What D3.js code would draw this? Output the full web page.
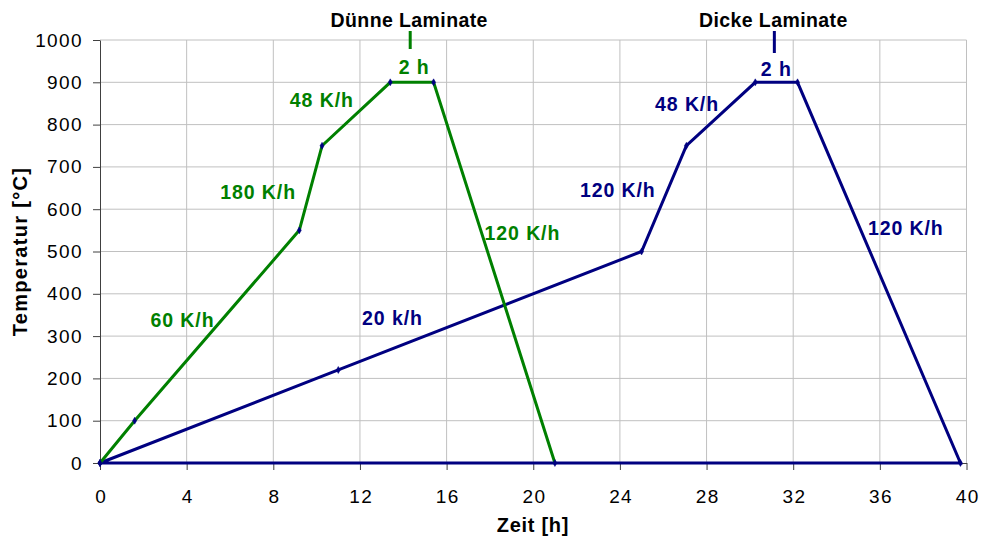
<!DOCTYPE html>
<html><head><meta charset="utf-8">
<script src="https://cdn.jsdelivr.net/npm/d3@7"></script>
<style>body{margin:0;background:#fff}svg{display:block}text{font-family:"Liberation Sans",Arial,sans-serif}</style>
</head><body>
<svg id="c" width="987" height="536"></svg>
<script>
const xTicks = [0,4,8,12,16,20,24,28,32,36,40];
const yTicks = [0,100,200,300,400,500,600,700,800,900,1000];
const thinTime = [0,1.6,9.2,10.25,13.4,15.4,21.0];
const thinTemp = [0,100,550,750,900,900,0];
const thickTime = [0,11.0,25.0,27.07,30.25,32.2,39.72,0];
const thickTemp = [0,220,500,750,900,900,0,0];
const thinLabels = ["60 K/h","180 K/h","48 K/h","2 h","120 K/h"];
const thinLabelX = [3.81,7.3,10.24,14.5,19.5];
const thinLabelY = [339,640,857,936,544];
const thickLabels = ["20 k/h","120 K/h","48 K/h","2 h","120 K/h"];
const thickLabelX = [13.5,23.9,27.1,31.22,37.2];
const thickLabelY = [343,645,849,931,556];
const titles = ["Dünne Laminate","Dicke Laminate"];
const titleX = [14.32,31.13];

const svg = d3.select("#c");
const m = {l:100,r:20.5,t:40,b:73};
const W = 987, H = 536;
const x = d3.scaleLinear().domain([0,40]).range([m.l, W-m.r]);
const y = d3.scaleLinear().domain([0,1000]).range([H-m.b, m.t]);
const green = "#008000", navy = "#000080";

// grid
svg.append("g").selectAll("line").data(xTicks.slice(1)).join("line")
  .attr("x1",d=>x(d)).attr("x2",d=>x(d)).attr("y1",y(0)).attr("y2",y(1000))
  .attr("stroke","#c0c0c0").attr("stroke-width",1);
svg.append("g").selectAll("line").data(yTicks.slice(1)).join("line")
  .attr("x1",x(0)).attr("x2",x(40)).attr("y1",d=>y(d)).attr("y2",d=>y(d))
  .attr("stroke","#c0c0c0").attr("stroke-width",1);

// axes
const fmt = d3.format("d");
const xa = svg.append("g").attr("transform",`translate(0,${y(0)})`)
  .call(d3.axisBottom(x).tickValues(xTicks).tickFormat(fmt).tickSize(7).tickSizeOuter(0).tickPadding(20));
const ya = svg.append("g").attr("transform",`translate(${x(0)},0)`)
  .call(d3.axisLeft(y).tickValues(yTicks).tickFormat(fmt).tickSize(7).tickSizeOuter(0).tickPadding(10));
[xa,ya].forEach(a=>{
  a.selectAll("text").attr("font-size",19).attr("letter-spacing","1.4px").attr("fill","#000")
    .attr("font-family","'Liberation Sans', Arial, sans-serif");
  a.selectAll("line,path").attr("stroke","#404040");
});
xa.selectAll("text").attr("dx","0.7px");

// series
const line = d3.line().x(d=>x(d[0])).y(d=>y(d[1]));
function series(tx,ty,col){
  const pts = tx.map((t,i)=>[t,ty[i]]);
  svg.append("path").datum(pts).attr("d",line).attr("fill","none")
    .attr("stroke",col).attr("stroke-width",3).attr("stroke-linejoin","miter");
  svg.append("g").selectAll("path").data(pts).join("path")
    .attr("d",d3.symbol(d3.symbolDiamond,14))
    .attr("transform",d=>`translate(${x(d[0])},${y(d[1])})`)
    .attr("fill",navy).attr("stroke",navy).attr("stroke-width",0.5);
}
series(thickTime,thickTemp,navy);
series(thinTime,thinTemp,green);

function labels(txt,lx,ly,col){
  svg.append("g").selectAll("text").data(txt).join("text")
    .attr("x",(d,i)=>x(lx[i])).attr("y",(d,i)=>y(ly[i]))
    .attr("text-anchor","middle").attr("dominant-baseline","central")
    .attr("font-size",19.5).attr("letter-spacing","0.9px").attr("font-weight","bold").attr("fill",col).text(d=>d);
}
labels(thinLabels,thinLabelX,thinLabelY,green);
labels(thickLabels,thickLabelX,thickLabelY,navy);

// titles with tick marks
const tcol=[green,navy];
const tickEnd=[49,53];
titles.forEach((t,i)=>{
  svg.append("text").attr("x",x(titleX[i])-1).attr("y",26.5).attr("text-anchor","middle")
    .attr("font-size",19.5).attr("letter-spacing","0.4px").attr("font-weight","bold").attr("fill","#000").text(t);
  svg.append("line").attr("x1",x(titleX[i])).attr("x2",x(titleX[i]))
    .attr("y1",31).attr("y2",tickEnd[i]).attr("stroke",tcol[i]).attr("stroke-width",3);
});

// axis titles
svg.append("text").attr("x",533).attr("y",532).attr("text-anchor","middle")
  .attr("font-size",20).attr("letter-spacing","0.7px").attr("font-weight","bold").text("Zeit [h]");
svg.append("text").attr("transform",`translate(27,${(y(0)+y(1000))/2}) rotate(-90)`)
  .attr("text-anchor","middle").attr("font-size",20).attr("letter-spacing","1.3px").attr("font-weight","bold").text("Temperatur [°C]");
</script>
</body></html>
